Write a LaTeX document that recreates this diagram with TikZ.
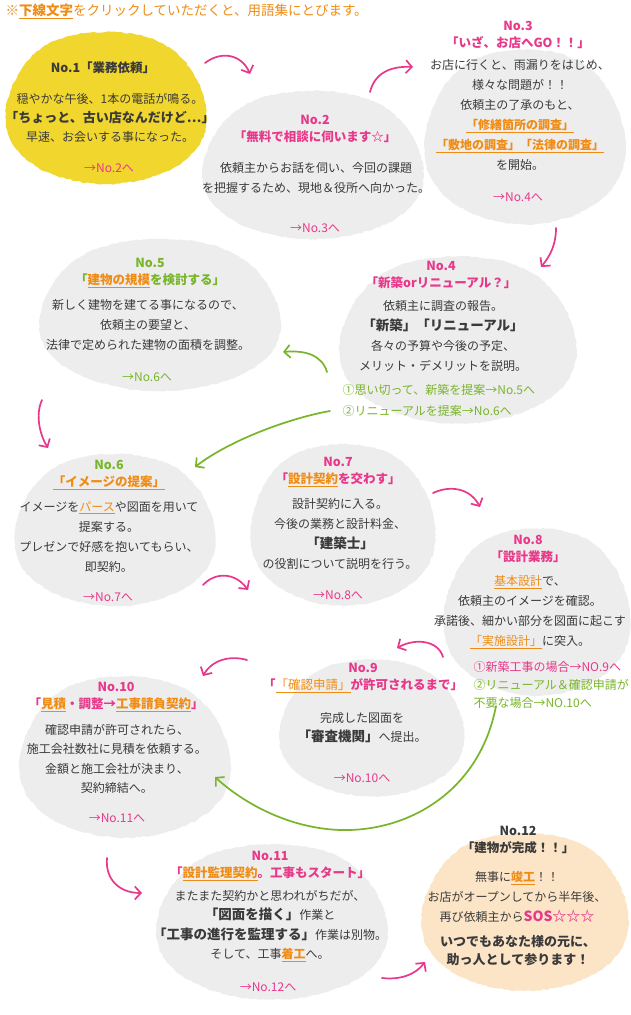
\documentclass[tikz,border=0pt]{standalone}
\usepackage{fontspec}
\setmainfont{Noto Sans CJK JP}
\usepackage{xcolor}
\usepackage{tikz}
\usetikzlibrary{arrows.meta,decorations.pathmorphing}

\definecolor{pinkline}{HTML}{E8388A}
\definecolor{greenline}{HTML}{78B52A}
\definecolor{glossorange}{HTML}{F08C14}
\definecolor{textgray}{HTML}{3A3A3A}
\definecolor{blobgray}{HTML}{EDEDED}
\definecolor{blobyellow}{HTML}{F1D62E}
\definecolor{blobpeach}{HTML}{FCE4C6}

\newcommand{\gloss}[1]{\textcolor{glossorange}{\underline{#1}}}
\newcommand{\keyw}[1]{{\fontsize{13.5}{19}\selectfont\bfseries #1}}
\newcommand{\blobshape}[5]{%
  \fill[#5, decorate, decoration={random steps, segment length=3pt, amplitude=0.8pt}]
    plot[smooth cycle, domain=0:354, samples=60]
    ({#1+#3*cos(\x)*(1+0.04*sin(3*\x))},{#2+#4*sin(\x)*(1+0.05*cos(2*\x))});}

\tikzset{
  ttl/.style={font=\fontsize{12.5}{17}\selectfont\bfseries, align=center},
  txt/.style={font=\fontsize{12}{20}\selectfont, text=textgray, align=center},
  lnk/.style={font=\fontsize{12}{14}\selectfont},
  opt/.style={font=\fontsize{12}{21}\selectfont, align=left, anchor=west},
  hand/.style={line width=1.7pt, line cap=round, -{Straight Barb[length=6pt,width=13pt]}}
}

\begin{document}
\begin{tikzpicture}[x=1pt,y=-1pt]
  \pgfmathsetseed{7}
  \fill[white] (0,0) rectangle (630,1015);
  \useasboundingbox (0,0) rectangle (630,1015);

  % blobs
  \blobshape{106}{108}{100}{80}{blobyellow}
  \blobshape{313}{165}{110}{78}{blobgray}
  \blobshape{525}{137}{100}{92}{blobgray}
  \blobshape{458}{340}{118}{88}{blobgray}
  \blobshape{160}{315}{120}{80}{blobgray}
  \blobshape{115}{530}{100}{80}{blobgray}
  \blobshape{343}{525}{92}{85}{blobgray}
  \blobshape{537}{612}{93}{88}{blobgray}
  \blobshape{372}{728}{92}{72}{blobgray}
  \blobshape{125}{757}{105}{85}{blobgray}
  \blobshape{272}{922}{115}{82}{blobgray}
  \blobshape{525}{912}{103}{83}{blobpeach}

  % arrow ends
  \coordinate (a1s) at (205,63);   \coordinate (a1e) at (250,74);
  \coordinate (a2s) at (370,92);   \coordinate (a2e) at (413,67);
  \coordinate (a3s) at (556,228);  \coordinate (a3e) at (541,267);
  \coordinate (a4s) at (327,372);  \coordinate (a4e) at (283,352);
  \coordinate (a5s) at (42,400);   \coordinate (a5e) at (48,448);
  \coordinate (a6s) at (330,411);  \coordinate (a6e) at (195,467);
  \coordinate (a7s) at (203,585);  \coordinate (a7e) at (248,590);
  \coordinate (a8s) at (433,493);  \coordinate (a8e) at (480,507);
  \coordinate (a9s) at (443,657);  \coordinate (a9e) at (397,648);
  \coordinate (a10s) at (247,660); \coordinate (a10e) at (203,676);
  \coordinate (a11s) at (496,706); \coordinate (a11m) at (340,830);
  \coordinate (a11e) at (215,777);
  \coordinate (a12s) at (107,858); \coordinate (a12e) at (142,893);
  \coordinate (a13s) at (382,978); \coordinate (a13e) at (425,962);

  \draw[hand,pinkline] (a1s) .. controls (222,50) and (242,55) .. (a1e);
  \draw[hand,pinkline] (a2s) .. controls (375,72) and (392,66) .. (a2e);
  \draw[hand,pinkline] (a3s) .. controls (556,245) and (550,256) .. (a3e);
  \draw[hand,greenline] (a4s) .. controls (322,355) and (305,350) .. (a4e);
  \draw[hand,pinkline] (a5s) .. controls (35,415) and (40,435) .. (a5e);
  \draw[hand,greenline] (a6s) .. controls (290,418) and (230,440) .. (a6e);
  \draw[hand,pinkline] (a7s) .. controls (215,572) and (235,572) .. (a7e);
  \draw[hand,pinkline] (a8s) .. controls (450,485) and (470,488) .. (a8e);
  \draw[hand,pinkline] (a9s) .. controls (438,640) and (415,638) .. (a9e);
  \draw[hand,pinkline] (a10s) .. controls (230,655) and (212,660) .. (a10e);
  \draw[hand,greenline] (a11s) .. controls (480,790) and (410,832) .. (a11m)
    .. controls (285,828) and (240,800) .. (a11e);
  \draw[hand,pinkline] (a12s) .. controls (105,880) and (120,893) .. (a12e);
  \draw[hand,pinkline] (a13s) .. controls (400,980) and (415,975) .. (a13e);

  % note
  \node[anchor=west, text=glossorange, font=\fontsize{13.5}{15}\selectfont] (note) at (2,11)
    {※\textbf{\underline{下線文字}}をクリックしていただくと、用語集にとびます。};

  % No.1
  \node[ttl, text=textgray] (n1title) at (103,68) {No.1「業務依頼」};
  \node[txt, font=\fontsize{12}{19}\selectfont] (n1body) at (110,118)
    {穏やかな午後、1本の電話が鳴る。\\{\fontsize{13}{19}\selectfont\bfseries 「ちょっと、古い店なんだけど…」}\\早速、お会いする事になった。};
  \node[lnk, text=pinkline] (n1link) at (109,168) {→No.2へ};

  % No.2
  \node[ttl, text=pinkline] (n2title) at (315,129) {No.2\\「無料で相談に伺います☆」};
  \node[txt] (n2body) at (316,178) {依頼主からお話を伺い、今回の課題\\を把握するため、現地＆役所へ向かった。};
  \node[lnk, text=pinkline] (n2link) at (315,228) {→No.3へ};

  % No.3
  \node[ttl, text=pinkline] (n3title) at (518,35) {No.3\\「いざ、お店へGO！！」};
  \node[txt] (n3body) at (520,115) {お店に行くと、雨漏りをはじめ、\\様々な問題が！！\\依頼主の了承のもと、\\
    \gloss{\bfseries「修繕箇所の調査」}\\\gloss{\bfseries「敷地の調査」「法律の調査」}\\を開始。};
  \node[lnk, text=pinkline] (n3link) at (518,197) {→No.4へ};

  % No.4
  \node[ttl, text=pinkline] (n4title) at (441,275) {No.4\\「新築orリニューアル？」};
  \node[txt] (n4body) at (443,336) {依頼主に調査の報告。\\\keyw{「新築」「リニューアル」}\\各々の予算や今後の予定、\\メリット・デメリットを説明。};
  \node[opt, text=greenline] (n4opt) at (339,400) {①思い切って、新築を提案→No.5へ\\②リニューアルを提案→No.6へ};

  % No.5
  \node[ttl, text=greenline] (n5title) at (150,273) {No.5\\「\gloss{建物の規模}を検討する」};
  \node[txt] (n5body) at (148,325) {新しく建物を建てる事になるので、\\依頼主の要望と、\\法律で定められた建物の面積を調整。};
  \node[lnk, text=greenline] (n5link) at (147,377) {→No.6へ};

  % No.6
  \node[ttl] (n6title) at (109,475) {\textcolor{greenline}{No.6}\\\gloss{「イメージの提案」}};
  \node[txt] (n6body) at (109,537) {イメージを\gloss{パース}や図面を用いて\\提案する。\\プレゼンで好感を抱いてもらい、\\即契約。};
  \node[lnk, text=pinkline] (n6link) at (108,597) {→No.7へ};

  % No.7
  \node[ttl, text=pinkline] (n7title) at (338,472) {No.7\\「\gloss{設計契約}を交わす」};
  \node[txt, font=\fontsize{12}{19.7}\selectfont] (n7body) at (340,534) {設計契約に入る。\\今後の業務と設計料金、\\\keyw{「建築士」}\\の役割について説明を行う。};
  \node[lnk, text=pinkline] (n7link) at (338,595) {→No.8へ};

  % No.8
  \node[ttl, text=pinkline] (n8title) at (528,549) {No.8\\「設計業務」};
  \node[txt] (n8body) at (530,612) {\gloss{基本設計}で、\\依頼主のイメージを確認。\\承諾後、細かい部分を図面に起こす\\\gloss{「実施設計」}に突入。};
  \node[opt, font=\fontsize{12}{18}\selectfont] (n8opt) at (470,685)
    {\textcolor{pinkline}{①新築工事の場合→NO.9へ}\\\textcolor{greenline}{②リニューアル＆確認申請が}\\\textcolor{greenline}{不要な場合→NO.10へ}};

  % No.9
  \node[ttl, text=pinkline] (n9title) at (363,678) {No.9\\「\gloss{\mdseries「確認申請」}が許可されるまで」};
  \node[txt, font=\fontsize{12}{19}\selectfont] (n9body) at (362,728) {完成した図面を\\\keyw{「審査機関」}へ提出。};
  \node[lnk, text=pinkline] (n9link) at (362,778) {→No.10へ};

  % No.10
  \node[ttl, text=pinkline] (n10title) at (116,697) {No.10\\「\gloss{見積}・調整→\gloss{工事請負契約}」};
  \node[txt, font=\fontsize{12}{19.5}\selectfont] (n10body) at (117,759) {確認申請が許可されたら、\\施工会社数社に見積を依頼する。\\金額と施工会社が決まり、\\契約締結へ。};
  \node[lnk, text=pinkline] (n10link) at (117,818) {→No.11へ};

  % No.11
  \node[ttl, text=pinkline] (n11title) at (270,866) {No.11\\「\gloss{設計監理契約}。工事もスタート」};
  \node[txt, font=\fontsize{12}{19.5}\selectfont] (n11body) at (270,926) {またまた契約かと思われがちだが、\\\keyw{「図面を描く」}作業と\\\keyw{「工事の進行を監理する」}作業は別物。\\そして、工事\gloss{\bfseries 着工}へ。};
  \node[lnk, text=pinkline] (n11link) at (268,987) {→No.12へ};

  % No.12
  \node[ttl, text=textgray] (n12title) at (518,840) {No.12\\「建物が完成！！」};
  \node[txt] (n12body) at (517,897) {無事に\gloss{\bfseries 竣工}！！\\お店がオープンしてから半年後、\\再び依頼主から\textcolor{pinkline}{\fontsize{14}{20}\selectfont\bfseries SOS☆☆☆}};
  \node[ttl, text=textgray, font=\fontsize{13}{18}\selectfont\bfseries] (n12close) at (518,951) {いつでもあなた様の元に、\\助っ人として参ります！};
\end{tikzpicture}
\end{document}
